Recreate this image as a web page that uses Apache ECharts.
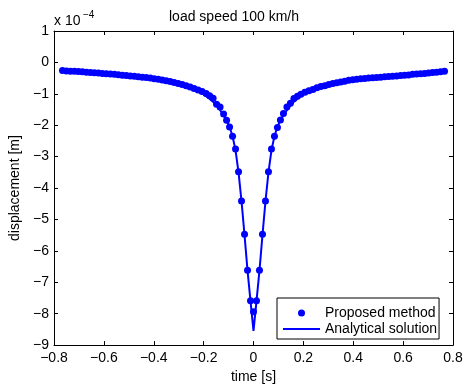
<!DOCTYPE html>
<html>
<head>
<meta charset="utf-8">
<script src="https://cdn.jsdelivr.net/npm/echarts@6/dist/echarts.min.js"></script>
<style>html,body{margin:0;padding:0;background:#fff;}#c{width:468px;height:389px;}</style>
</head>
<body>
<div id="c"></div>
<script>
// displacement values in units of 1e-4 m
var titleText = 'load speed 100 km/h';
var xAxisName = 'time [s]';
var yAxisName = 'displacement [m]';
var exponentText = '−4';

var proposedTime = [
  -0.766,-0.75,-0.734,-0.718,-0.702,-0.686,-0.67,-0.654,-0.638,-0.622,-0.606,-0.59,-0.574,-0.558,-0.542,-0.526,
  -0.51,-0.494,-0.478,-0.462,-0.446,-0.43,-0.414,-0.398,-0.382,-0.366,-0.35,-0.334,-0.318,-0.302,-0.286,-0.27,
  -0.254,-0.238,-0.222,-0.206,-0.19,-0.176,-0.162,-0.148,-0.134,-0.12,-0.108,-0.096,-0.084,-0.072,
  -0.06,-0.048,-0.036,-0.024,-0.012,0,
  0.012,0.024,0.036,0.048,0.06,0.072,0.084,0.096,0.108,0.12,0.134,0.148,0.162,0.176,0.19,0.206,0.222,0.238,
  0.254,0.27,0.286,0.302,0.318,0.334,0.35,0.366,0.382,0.398,0.414,0.43,0.446,0.462,0.478,0.494,0.51,0.526,
  0.542,0.558,0.574,0.59,0.606,0.622,0.638,0.654,0.67,0.686,0.702,0.718,0.734,0.75,0.766
];
var proposedDisp = [
  -0.26,-0.27,-0.28,-0.28,-0.29,-0.30,-0.31,-0.32,-0.33,-0.34,-0.35,-0.36,-0.37,-0.38,-0.39,-0.41,
  -0.42,-0.43,-0.44,-0.46,-0.47,-0.48,-0.50,-0.52,-0.54,-0.56,-0.58,-0.61,-0.64,-0.67,-0.70,-0.74,
  -0.78,-0.83,-0.88,-0.93,-0.99,-1.06,-1.14,-1.33,-1.42,-1.64,-1.84,-2.06,-2.35,-2.76,
  -3.48,-4.41,-5.47,-6.62,-7.59,-7.94,
  -7.59,-6.62,-5.47,-4.41,-3.48,-2.76,-2.35,-2.07,-1.83,-1.63,-1.42,-1.30,-1.15,-1.08,-1.01,-0.95,-0.90,-0.86,
  -0.81,-0.77,-0.74,-0.70,-0.67,-0.65,-0.62,-0.60,-0.57,-0.55,-0.54,-0.52,-0.51,-0.50,-0.49,-0.48,-0.47,-0.46,
  -0.45,-0.44,-0.43,-0.42,-0.41,-0.40,-0.38,-0.37,-0.36,-0.35,-0.34,-0.32,-0.31,-0.30,-0.28
];

var analyticTime = [
  -0.772,-0.7,-0.65,-0.6,-0.55,-0.5,-0.45,-0.4,-0.36,-0.32,-0.28,-0.24,-0.2,-0.18,-0.16,-0.14,-0.12,-0.108,
  -0.096,-0.084,-0.072,-0.06,-0.048,-0.036,-0.024,-0.012,0,
  0.012,0.024,0.036,0.048,0.06,0.072,0.084,0.096,0.108,0.12,0.14,0.16,0.18,0.2,0.24,0.28,0.32,0.36,0.4,
  0.45,0.5,0.55,0.6,0.65,0.7,0.772
];
var analyticDisp = [
  -0.27,-0.30,-0.33,-0.36,-0.40,-0.43,-0.47,-0.53,-0.58,-0.65,-0.74,-0.86,-1.02,-1.13,-1.27,-1.45,-1.68,-1.85,
  -2.05,-2.35,-2.80,-3.50,-4.42,-5.50,-6.62,-7.60,-8.55,
  -7.60,-6.62,-5.50,-4.42,-3.50,-2.80,-2.35,-2.05,-1.85,-1.68,-1.45,-1.27,-1.13,-1.02,-0.87,-0.76,-0.67,-0.60,-0.55,
  -0.51,-0.47,-0.44,-0.41,-0.37,-0.33,-0.28
];

var seriesNames = ['Proposed method', 'Analytical solution'];

function zip(a, b) { var r = []; for (var i = 0; i < a.length; i++) r.push([a[i], b[i]]); return r; }

var FONT = '"Liberation Sans", Arial, Helvetica, sans-serif';
var BLUE = '#0000ff';

function fmtX(v) { var s = Math.abs(v) < 1e-9 ? '0' : v.toFixed(1); return s.replace('-', '−'); }
function fmtY(v) { return String(Math.round(v)).replace('-', '−'); }

var axisCommon = {
  axisLine: { show: true, onZero: false, lineStyle: { color: '#000', width: 1 } },
  axisTick: { show: true, inside: true, length: 4, lineStyle: { color: '#000', width: 1 } },
  splitLine: { show: false }
};

var chart = echarts.init(document.getElementById('c'), null, { renderer: 'canvas' });
chart.setOption({
  animation: false,
  backgroundColor: '#fff',
  textStyle: { fontFamily: FONT },
  title: {
    text: titleText, left: 'center', top: 5,
    textStyle: { fontFamily: FONT, fontSize: 14, fontWeight: 'normal', color: '#000' }
  },
  grid: { left: 54, right: 15, top: 31, bottom: 43 },
  xAxis: [
    Object.assign({
      type: 'value', position: 'bottom', min: -0.8, max: 0.8, interval: 0.2,
      name: xAxisName, nameLocation: 'middle', nameGap: 24,
      nameTextStyle: { fontFamily: FONT, fontSize: 14, color: '#000' },
      axisLabel: { formatter: fmtX, color: '#000', fontFamily: FONT, fontSize: 14, margin: 6 }
    }, axisCommon),
    Object.assign({
      type: 'value', position: 'top', min: -0.8, max: 0.8, interval: 0.2,
      axisLabel: { show: false }
    }, axisCommon)
  ],
  yAxis: [
    Object.assign({
      type: 'value', position: 'left', min: -9, max: 1, interval: 1,
      name: yAxisName, nameLocation: 'middle', nameGap: 27, nameRotate: 90,
      nameTextStyle: { fontFamily: FONT, fontSize: 14, color: '#000' },
      axisLabel: { formatter: fmtY, color: '#000', fontFamily: FONT, fontSize: 14, margin: 5 }
    }, axisCommon),
    Object.assign({
      type: 'value', position: 'right', min: -9, max: 1, interval: 1,
      axisLabel: { show: false }
    }, axisCommon)
  ],
  legend: {
    orient: 'vertical', left: 277, top: 298,
    padding: [8, 2, 3, 6], itemGap: 2, itemWidth: 37, itemHeight: 7, itemTextGap: 4,
    borderColor: '#000', borderWidth: 1, borderRadius: 0, backgroundColor: '#fff',
    textStyle: { fontFamily: FONT, fontSize: 14, color: '#000' },
    data: [
      { name: seriesNames[0], icon: 'circle', itemStyle: { color: BLUE, opacity: 1 } },
      { name: seriesNames[1], icon: 'path://M0,0 L37,0 L37,2 L0,2 Z', itemStyle: { color: BLUE } }
    ]
  },
  graphic: [
    { type: 'text', x: 54, y: 21, style: { text: 'x 10', fill: '#000', font: '14px ' + FONT, verticalAlign: 'middle' } },
    { type: 'text', x: 83, y: 15, style: { text: exponentText, fill: '#000', font: '10px ' + FONT, verticalAlign: 'middle' } }
  ],
  series: [
    {
      name: seriesNames[0], type: 'scatter', symbol: 'circle', symbolSize: 7,
      itemStyle: { color: BLUE, opacity: 1 }, data: zip(proposedTime, proposedDisp), z: 2
    },
    {
      name: seriesNames[1], type: 'line', symbol: 'none', showSymbol: false,
      lineStyle: { color: BLUE, width: 2 }, itemStyle: { color: BLUE },
      data: zip(analyticTime, analyticDisp), z: 3
    }
  ]
});
</script>
</body>
</html>
